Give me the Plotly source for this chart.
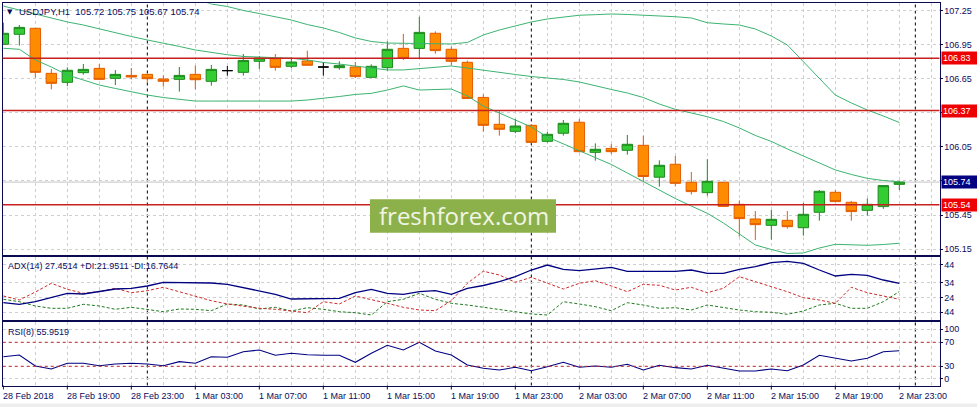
import plotly.graph_objects as go
import pandas as pd

W, H = 977, 407

# ---------------- data ----------------
start = "2018-02-28 15:00"
n_bars = 57
times = pd.date_range(start, periods=n_bars, freq="h")

opens = [106.954, 107.042, 107.095, 106.698, 106.619, 106.704, 106.742, 106.654, 106.680, 106.689,
         106.648, 106.645, 106.689, 106.628, 106.722, 106.707, 106.804, 106.827, 106.760, 106.807,
         106.754, 106.748, 106.754, 106.663, 106.748, 106.918, 106.918, 107.051, 106.910, 106.795,
         106.486, 106.249, 106.187, 106.240, 106.099, 106.170, 106.267, 106.002, 106.037, 106.020,
         106.064, 105.783, 105.897, 105.738, 105.647, 105.738, 105.544, 105.415, 105.359, 105.403,
         105.338, 105.474, 105.650, 105.562, 105.491, 105.524, 105.72]
highs = [107.145, 107.124, 107.095, 106.736, 106.751, 106.780, 106.780, 106.727, 106.745, 106.695,
         106.680, 106.754, 106.766, 106.772, 106.763, 106.868, 106.851, 106.868, 106.839, 106.898,
         106.798, 106.804, 106.798, 106.777, 106.980, 107.045, 107.197, 107.068, 106.933, 106.810,
         106.513, 106.369, 106.296, 106.246, 106.181, 106.287, 106.296, 106.081, 106.076, 106.155,
         106.149, 105.932, 105.970, 105.829, 105.941, 105.741, 105.579, 105.485, 105.494, 105.485,
         105.556, 105.670, 105.670, 105.574, 105.597, 105.711, 105.75]
lows = [106.950, 106.942, 106.660, 106.557, 106.586, 106.686, 106.639, 106.595, 106.645, 106.616,
        106.581, 106.537, 106.557, 106.590, 106.678, 106.678, 106.736, 106.722, 106.742, 106.766,
        106.678, 106.730, 106.657, 106.660, 106.722, 106.816, 106.830, 106.871, 106.769, 106.474,
        106.184, 106.149, 106.170, 106.081, 106.087, 106.149, 106.002, 105.929, 105.987, 105.981,
        105.743, 105.700, 105.702, 105.630, 105.620, 105.523, 105.259, 105.230, 105.233, 105.330,
        105.268, 105.400, 105.565, 105.400, 105.444, 105.504, 105.67]
closes = [107.051, 107.103, 106.707, 106.610, 106.725, 106.733, 106.645, 106.689, 106.666, 106.651,
          106.628, 106.680, 106.642, 106.733, 106.722, 106.812, 106.833, 106.751, 106.798, 106.769,
          106.754, 106.766, 106.669, 106.760, 106.910, 106.830, 107.059, 106.898, 106.804, 106.477,
          106.240, 106.205, 106.234, 106.090, 106.161, 106.258, 106.008, 106.029, 106.008, 106.073,
          105.789, 105.888, 105.729, 105.656, 105.747, 105.526, 105.418, 105.365, 105.412, 105.347,
          105.456, 105.659, 105.568, 105.480, 105.544, 105.709, 105.74]

bb_upper = [107.664, 107.602, 107.626, 107.617, 107.617, 107.609, 107.582, 107.543, 107.512, 107.477,
            107.446, 107.402, 107.353, 107.309, 107.287, 107.252, 107.225, 107.199, 107.168, 107.128,
            107.098, 107.058, 107.010, 106.979, 106.965, 106.963, 106.963, 106.961, 106.957, 106.970,
            107.036, 107.080, 107.115, 107.151, 107.177, 107.195, 107.210, 107.215, 107.221, 107.217,
            107.212, 107.203, 107.197, 107.186, 107.144, 107.133, 107.124, 107.089, 107.027, 106.948,
            106.798, 106.648, 106.507, 106.437, 106.375, 106.322, 106.265]
bb_mid = [107.291, 107.256, 107.221, 107.186, 107.151, 107.124, 107.089, 107.054, 107.023, 106.992,
          106.965, 106.935, 106.904, 106.882, 106.862, 106.847, 106.840, 106.833, 106.831, 106.816,
          106.794, 106.780, 106.763, 106.745, 106.728, 106.728, 106.741, 106.754, 106.763, 106.745,
          106.728, 106.710, 106.688, 106.670, 106.657, 106.644, 106.622, 106.587, 106.556, 106.525,
          106.485, 106.428, 106.381, 106.349, 106.316, 106.274, 106.217, 106.151, 106.098, 106.032,
          105.970, 105.913, 105.847, 105.807, 105.773, 105.754, 105.743]
bb_lower = [106.919, 106.910, 106.816, 106.754, 106.684, 106.640, 106.595, 106.565, 106.534, 106.507,
            106.485, 106.468, 106.454, 106.454, 106.454, 106.454, 106.454, 106.454, 106.454, 106.463,
            106.477, 106.494, 106.512, 106.522, 106.551, 106.587, 106.551, 106.556, 106.560, 106.499,
            106.410, 106.349, 106.287, 106.225, 106.137, 106.076, 106.010, 105.952, 105.895, 105.820,
            105.745, 105.670, 105.595, 105.529, 105.465, 105.380, 105.283, 105.186, 105.146, 105.111,
            105.115, 105.159, 105.192, 105.190, 105.183, 105.190, 105.201]

adx = [14.49, 13.42, 15.16, 18.10, 20.77, 20.30, 21.84, 23.64, 24.11, 25.65,
       28.12, 28.12, 28.12, 27.65, 26.78, 24.51, 22.51, 20.10, 16.96, 16.96,
       17.43, 17.43, 21.17, 23.44, 20.77, 20.10, 21.84, 22.51, 20.10, 24.11,
       25.98, 28.52, 31.86, 36.33, 39.67, 36.80, 35.87, 36.80, 38.14, 35.47,
       35.47, 35.47, 35.47, 36.33, 34.13, 34.13, 36.80, 38.54, 41.21, 42.15,
       40.81, 36.33, 32.33, 33.46, 32.79, 29.65, 27.45]
plus_di = [16.76, 15.16, 12.29, 10.75, 10.75, 13.42, 12.29, 10.08, 11.42, 10.08,
           8.48, 10.28, 10.08, 9.15, 13.62, 12.95, 10.28, 11.42, 8.95, 11.15,
           10.08, 8.48, 7.81, 6.27, 15.16, 16.76, 20.77, 16.76, 14.09, 12.95,
           11.42, 9.61, 8.08, 6.94, 6.27, 15.16, 13.62, 11.82, 9.15, 14.49,
           12.95, 10.75, 11.15, 9.61, 12.95, 11.15, 9.61, 8.48, 8.08, 6.74,
           8.95, 12.95, 14.09, 10.75, 10.75, 15.16, 21.95]
minus_di = [18.97, 16.29, 21.64, 27.45, 23.44, 20.77, 21.84, 24.11, 21.17, 22.51,
            24.78, 21.84, 18.50, 15.83, 13.62, 12.29, 10.75, 10.08, 8.95, 7.81,
            15.16, 13.62, 18.97, 16.76, 14.09, 11.42, 9.61, 9.15, 15.83, 27.45,
            35.53, 32.99, 28.12, 31.46, 27.45, 23.64, 27.45, 29.19, 25.65, 21.84,
            26.78, 26.11, 22.97, 24.78, 21.17, 24.11, 31.86, 28.52, 24.78, 21.84,
            17.83, 16.29, 14.09, 24.78, 21.17, 19.17, 16.76]
rsi = [46.0, 48.8, 30.5, 25.5, 35.0, 35.0, 31.0, 33.8, 35.0, 33.8,
       31.0, 37.7, 35.0, 46.0, 45.0, 54.3, 57.2, 48.3, 51.7, 49.3,
       48.3, 48.3, 36.7, 51.7, 65.0, 57.2, 70.0, 55.5, 48.8, 32.2,
       26.7, 23.8, 28.3, 22.7, 29.3, 36.7, 28.3, 30.5, 28.3, 33.3,
       23.8, 31.7, 27.7, 25.5, 31.7, 26.7, 22.2, 22.2, 25.5, 22.7,
       32.2, 48.3, 43.3, 38.8, 43.3, 54.3, 55.95]

hlines = [106.83, 106.37, 105.54]
bid_price = 105.74
price_ticks = [107.25, 106.95, 106.65, 106.35, 106.05, 105.75, 105.45, 105.15]
price_ticktext = ["107.25", "106.95", "106.65", "", "106.05", "", "105.45", "105.15"]
adx_tickvals = [39.9, 27.85, 17.8, 8.1]
adx_ticktext = ["44", "34", "24", "44"]
rsi_tickvals = [91.7, 70, 30, 9.3]
rsi_ticktext = ["100", "70", "30", "0"]
rsi_levels = [70, 30]
time_label_idx = list(range(0, 57, 4))
time_labels = ["28 Feb 2018", "28 Feb 19:00", "28 Feb 23:00", "1 Mar 03:00", "1 Mar 07:00",
               "1 Mar 11:00", "1 Mar 15:00", "1 Mar 19:00", "1 Mar 23:00", "2 Mar 03:00",
               "2 Mar 07:00", "2 Mar 11:00", "2 Mar 15:00", "2 Mar 19:00", "2 Mar 23:00"]
separators = ["2018-03-01 00:00", "2018-03-02 00:00", "2018-03-03 00:00"]
title_text = "USDJPY,H1\u00a0\u00a0105.72 105.75 105.67 105.74"
adx_text = "ADX(14) 27.4514 +DI:21.9511 -DI:16.7644"
rsi_text = "RSI(8) 55.9519"

# ---------------- styles ----------------
FONT = "Liberation Sans, Arial, sans-serif"
NAVY = "#0c0c5e"
BORDER = "#0a0a50"
GRID = "#cfcfcf"
BULL_FILL, BULL_LINE = "#33cc33", "#1f8a1f"
BEAR_FILL, BEAR_LINE = "#ff8c00", "#e35d00"
BAND = "#3cb371"
HRED = "#c8201e"


def py(px):
    return 1 - px / H


X_DOM = [2.7 / W, 939.5 / W]
MAIN = [py(255), py(3.3)]
ADXD = [py(320), py(257)]
RSID = [py(385.5), py(322)]

t0 = times[0]
x_range = [t0 - pd.Timedelta(minutes=2.4), t0 + pd.Timedelta(hours=58.51)]
even_times = [times[i] for i in range(0, n_bars, 2)] + [t0 + pd.Timedelta(hours=58)]
label_times = [times[i] for i in time_label_idx]

fig = go.Figure()


def candles(idx, fill, line):
    return go.Candlestick(
        x=[times[i] for i in idx], open=[opens[i] for i in idx], high=[highs[i] for i in idx],
        low=[lows[i] for i in idx], close=[closes[i] for i in idx],
        increasing=dict(fillcolor=fill, line=dict(color=line, width=1)),
        decreasing=dict(fillcolor=fill, line=dict(color=line, width=1)),
        whiskerwidth=0, xaxis="x", yaxis="y", hoverinfo="skip", showlegend=False)


bull = [i for i in range(n_bars) if closes[i] > opens[i]]
bear = [i for i in range(n_bars) if closes[i] < opens[i]]
doji = [i for i in range(n_bars) if closes[i] == opens[i]]

for band in (bb_upper, bb_mid, bb_lower):
    fig.add_trace(go.Scatter(x=times, y=band, mode="lines", line=dict(color=BAND, width=1),
                             xaxis="x", yaxis="y", hoverinfo="skip", showlegend=False))

fig.add_trace(candles(bull, BULL_FILL, BULL_LINE))
fig.add_trace(candles(bear, BEAR_FILL, BEAR_LINE))
fig.add_trace(candles(doji, "#000000", "#000000"))

fig.add_trace(go.Scatter(x=times, y=plus_di, mode="lines",
                         line=dict(color="#1f7a1f", width=1, dash="3px,2px"),
                         xaxis="x2", yaxis="y2", hoverinfo="skip", showlegend=False))
fig.add_trace(go.Scatter(x=times, y=minus_di, mode="lines",
                         line=dict(color="#cc2a2a", width=1, dash="3px,2px"),
                         xaxis="x2", yaxis="y2", hoverinfo="skip", showlegend=False))
fig.add_trace(go.Scatter(x=times, y=adx, mode="lines", line=dict(color="#000080", width=1.3),
                         xaxis="x2", yaxis="y2", hoverinfo="skip", showlegend=False))
fig.add_trace(go.Scatter(x=times, y=rsi, mode="lines", line=dict(color="#000080", width=1.1),
                         xaxis="x3", yaxis="y3", hoverinfo="skip", showlegend=False))

xcommon = dict(domain=X_DOM, range=x_range, type="date", showticklabels=False, showgrid=True,
               gridcolor=GRID, griddash="3px,3px", gridwidth=1, showline=True, mirror=True,
               linecolor=BORDER, linewidth=1, zeroline=False, fixedrange=True,
               tickmode="array", tickvals=even_times, ticks="")
ycommon = dict(side="right", showgrid=True, gridcolor=GRID, griddash="3px,3px", gridwidth=1,
               showline=True, mirror=True, linecolor=BORDER, linewidth=1, zeroline=False,
               ticks="outside", ticklen=2, tickcolor=BORDER,
               tickfont=dict(family=FONT, size=9, color=NAVY), fixedrange=True)

fig.update_layout(
    width=W, height=H, autosize=False, margin=dict(l=0, r=0, t=0, b=0),
    paper_bgcolor="white", plot_bgcolor="white", showlegend=False,
    boxgap=0.35, boxgroupgap=0,
    xaxis=dict(xcommon, anchor="y", rangeslider=dict(visible=False)),
    xaxis2=dict(xcommon, anchor="y2"),
    xaxis3=dict(xcommon, anchor="y3"),
    yaxis=dict(ycommon, domain=MAIN, anchor="x", range=[105.0976, 107.3152], tickmode="array",
               tickvals=price_ticks, ticktext=price_ticktext),
    yaxis2=dict(ycommon, domain=ADXD, anchor="x2", range=[2.93, 45.02], tickmode="array",
                tickvals=adx_tickvals, ticktext=adx_ticktext),
    yaxis3=dict(ycommon, domain=RSID, anchor="x3", range=[-2.0, 103.8], tickmode="array",
                tickvals=rsi_tickvals, ticktext=rsi_ticktext),
)

shapes = []
# day separators
for s in separators:
    shapes.append(dict(type="line", xref="x", yref="paper", x0=s, x1=s, y0=RSID[0], y1=MAIN[1],
                       line=dict(color="#000000", width=1, dash="3px,3px"), layer="below"))
# time-axis tick marks below the RSI window
for t in label_times:
    shapes.append(dict(type="line", xref="x", yref="paper", x0=t, x1=t, y0=py(389.5),
                       y1=RSID[0], line=dict(color=BORDER, width=1), layer="above"))
for v in hlines:
    shapes.append(dict(type="line", xref="paper", yref="y", x0=X_DOM[0], x1=X_DOM[1], y0=v, y1=v,
                       line=dict(color=HRED, width=1.5), layer="above"))
shapes.append(dict(type="line", xref="paper", yref="y", x0=X_DOM[0], x1=X_DOM[1],
                   y0=bid_price, y1=bid_price, line=dict(color="#c4c4c4", width=1),
                   layer="below"))
for lv in rsi_levels:
    shapes.append(dict(type="line", xref="paper", yref="y3", x0=X_DOM[0], x1=X_DOM[1], y0=lv,
                       y1=lv, line=dict(color="#c03030", width=1, dash="3px,3px"),
                       layer="above"))
# watermark box
shapes.append(dict(type="rect", xref="paper", yref="paper", x0=370 / W, x1=556 / W,
                   y0=py(232.7), y1=py(199.3), fillcolor="#8db14a", line=dict(width=0),
                   layer="above"))
# status strip at bottom
shapes.append(dict(type="rect", xref="paper", yref="paper", x0=0, x1=1, y0=0, y1=py(403.5),
                   fillcolor="#ededed", line=dict(width=0), layer="above"))

ann = []
ann.append(dict(xref="paper", yref="paper", x=5 / W, y=py(12.3), xanchor="left", yanchor="middle",
                text="\u25bc", showarrow=False,
                font=dict(family="DejaVu Sans", size=7, color=NAVY)))
ann.append(dict(xref="paper", yref="paper", x=16.5 / W, y=py(11.8), xanchor="left",
                yanchor="middle", text=title_text, showarrow=False,
                font=dict(family=FONT, size=9.5, color=NAVY)))
ann.append(dict(xref="paper", yref="paper", x=5.5 / W, y=py(266), xanchor="left",
                yanchor="middle", text=adx_text, showarrow=False,
                font=dict(family=FONT, size=9, color=NAVY)))
ann.append(dict(xref="paper", yref="paper", x=5.5 / W, y=py(331.7), xanchor="left",
                yanchor="middle", text=rsi_text, showarrow=False,
                font=dict(family=FONT, size=9, color=NAVY)))
for v in hlines:
    ann.append(dict(xref="paper", yref="y", x=941 / W, y=v, xanchor="left", yanchor="middle",
                    text=f"{v:.2f}", showarrow=False, bgcolor="#ee0000", borderpad=1,
                    width=34, height=10, align="left",
                    font=dict(family=FONT, size=9, color="white")))
ann.append(dict(xref="paper", yref="y", x=941 / W, y=bid_price, xanchor="left", yanchor="middle",
                text=f"{bid_price:.2f}", showarrow=False, bgcolor="#000080", borderpad=1,
                width=34, height=10, align="left",
                font=dict(family=FONT, size=9, color="white")))
for i, lab in zip(time_label_idx, time_labels):
    ann.append(dict(xref="x3", yref="paper", x=times[i], y=py(395.5), xanchor="left",
                    yanchor="middle", xshift=-2, text=lab, showarrow=False,
                    font=dict(family=FONT, size=9, color=NAVY)))
ann.append(dict(xref="paper", yref="paper", x=464 / W, y=py(215), xanchor="center",
                yanchor="middle", text="freshforex.com", showarrow=False,
                font=dict(family="Open Sans, Noto Sans, sans-serif", size=24, color="#f1f5e6")))

fig.update_layout(shapes=shapes, annotations=ann)

fig.write_html(
    "out.html",
    config={"displayModeBar": False},
    post_script="document.body.style.margin='0';document.body.style.overflow='hidden';",
)
